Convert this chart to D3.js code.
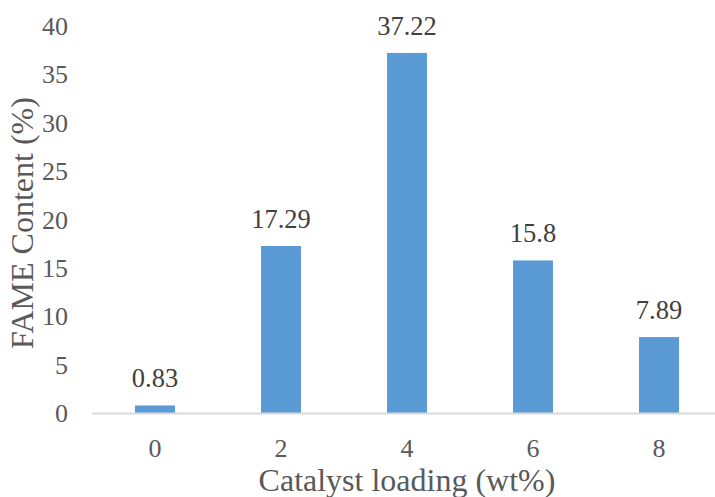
<!DOCTYPE html>
<html>
<head>
<meta charset="utf-8">
<script src="https://cdn.jsdelivr.net/npm/d3@7"></script>
<style>
  html, body { margin: 0; padding: 0; background: #fff; }
  svg { display: block; }
</style>
</head>
<body>
<script>
const categories = ["0", "2", "4", "6", "8"];
const values = [0.83, 17.29, 37.22, 15.8, 7.89];
const valueLabels = ["0.83", "17.29", "37.22", "15.8", "7.89"];
const yTicks = [0, 5, 10, 15, 20, 25, 30, 35, 40];
const xTitle = "Catalyst loading (wt%)";
const yTitle = "FAME Content (%)";

const FONT = "Liberation Serif";
const W = 715, H = 497;
const svg = d3.select("body").append("svg")
  .attr("width", W).attr("height", H)
  .attr("font-family", FONT);

const x = d3.scaleBand().domain(categories).range([92, 722])
  .paddingInner(0.683).paddingOuter(0.3415);
const y = d3.scaleLinear().domain([0, 40]).range([413.5, 26]);

// bars
svg.append("g").selectAll("rect").data(values).join("rect")
  .attr("x", (d, i) => x(categories[i]))
  .attr("width", x.bandwidth())
  .attr("y", d => y(d))
  .attr("height", d => y(0) - y(d))
  .attr("fill", "#5b9bd5");

// x axis line
svg.append("line")
  .attr("x1", 92).attr("x2", 722)
  .attr("y1", y(0)).attr("y2", y(0))
  .attr("stroke", "#d9d9d9").attr("stroke-width", 2);

// y tick labels
const yAxis = d3.axisLeft(y).tickValues(yTicks).tickSize(0).tickPadding(0);
const gy = svg.append("g").attr("transform", "translate(68,0)").call(yAxis)
  .attr("font-family", FONT).attr("font-size", 26);
gy.select(".domain").remove();
gy.selectAll("text").attr("fill", "#595959").attr("font-family", FONT);

// x tick labels
const xAxis = d3.axisBottom(x).tickSize(0).tickPadding(0);
const gx = svg.append("g").call(xAxis)
  .attr("font-family", FONT).attr("font-size", 26);
gx.select(".domain").remove();
gx.selectAll("text")
  .attr("fill", "#595959")
  .attr("dy", null)
  .attr("y", 457)
  .attr("font-family", FONT);

// data labels
svg.append("g").selectAll("text").data(values).join("text")
  .attr("x", (d, i) => x(categories[i]) + x.bandwidth() / 2)
  .attr("y", d => y(d) - 18)
  .attr("text-anchor", "middle")
  .attr("fill", "#404040")
  .attr("font-family", FONT)
  .attr("font-size", 26.5)
  .text((d, i) => valueLabels[i]);

// x title
svg.append("text")
  .attr("x", 407).attr("y", 491)
  .attr("text-anchor", "middle")
  .attr("fill", "#595959")
  .attr("font-family", FONT)
  .attr("font-size", 32)
  .text(xTitle);

// y title
svg.append("text")
  .attr("transform", "translate(33,223) rotate(-90)")
  .attr("text-anchor", "middle")
  .attr("fill", "#595959")
  .attr("font-family", FONT)
  .attr("font-size", 32)
  .text(yTitle);
</script>
</body>
</html>
